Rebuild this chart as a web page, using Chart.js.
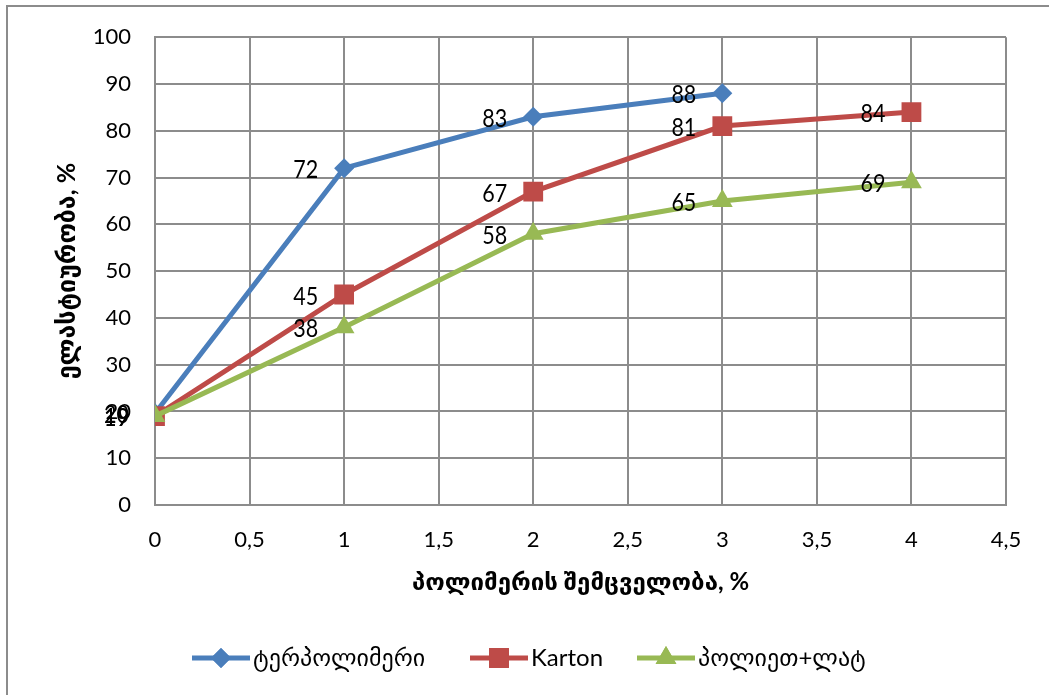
<!DOCTYPE html>
<html>
<head>
<meta charset="utf-8">
<script src="https://cdn.jsdelivr.net/npm/chart.js@4"></script>
<style>
  html, body { margin: 0; padding: 0; background: #fff; }
  #wrap { position: relative; width: 1049px; height: 695px; }
  #frame { position: absolute; left: 6px; top: 5px; right: -10px; bottom: -10px;
           border-left: 2px solid #8c8c8c; border-top: 2px solid #8c8c8c; }
  canvas { position: absolute; left: 0; top: 0; }
</style>
</head>
<body>
<div id="wrap">
  <div id="frame"></div>
  <canvas id="chart" width="1049" height="695"></canvas>
</div>
<script>
const xTitle = 'პოლიმერის შემცველობა, %';
const yTitle = 'ელასტიურობა, %';
const polymerContent = [0, 1, 2, 3, 4];
const terpolymer = [19.6, 72, 83, 88];
const karton = [19, 45, 67, 81, 84];
const polyLat = [19, 38, 58, 65, 69];
const seriesNames = ['ტერპოლიმერი', 'Karton', 'პოლიეთ+ლატ'];
const colors = ['#4a7ebb', '#be4b48', '#98b954'];
const styles = ['rectRot', 'rect', 'triangle'];
const radii = [10, 14, 12];

const FONT = "Lato, 'DejaVu Sans', sans-serif";

const toPoints = vals => vals.map((v, i) => ({ x: polymerContent[i], y: v }));

// later series on top, like the original
const datasets = [terpolymer, karton, polyLat].map((vals, i) => ({
    label: seriesNames[i],
    data: toPoints(vals),
    order: 3 - i,
    borderColor: colors[i],
    backgroundColor: colors[i],
    borderWidth: 5,
    pointStyle: styles[i],
    pointRadius: radii[i],
    pointHoverRadius: radii[i],
    pointBorderWidth: 0,
    tension: 0
}));

// value labels to the left of every point
const valueLabels = {
    id: 'valueLabels',
    afterDatasetsDraw(chart) {
        const ctx = chart.ctx;
        ctx.save();
        ctx.fillStyle = '#000';
        ctx.font = '25px ' + FONT;
        ctx.textAlign = 'right';
        ctx.textBaseline = 'middle';
        chart.data.datasets.forEach((ds, i) => {
            chart.getDatasetMeta(i).data.forEach((pt, j) => {
                ctx.save();
                ctx.translate(pt.x - 26, pt.y + 2);
                ctx.scale(0.86, 1);
                ctx.fillText(String(Math.round(ds.data[j].y)), 0, 0);
                ctx.restore();
            });
        });
        ctx.restore();
    }
};

// legend drawn as line + marker like the original
const lineLegend = {
    id: 'lineLegend',
    afterDraw(chart) {
        const ctx = chart.ctx;
        const y = 658;
        const starts = [192, 470, 637];
        ctx.save();
        ctx.font = '24px ' + FONT;
        ctx.textBaseline = 'middle';
        ctx.textAlign = 'left';
        chart.data.datasets.forEach((ds, i) => {
            const x0 = starts[i];
            ctx.strokeStyle = colors[i];
            ctx.lineWidth = 5;
            ctx.beginPath();
            ctx.moveTo(x0, y);
            ctx.lineTo(x0 + 58, y);
            ctx.stroke();
            ctx.fillStyle = colors[i];
            Chart.helpers.drawPoint(ctx, { pointStyle: styles[i], radius: radii[i], rotation: 0, borderWidth: 0 }, x0 + 29, y);
            ctx.fill();
            ctx.fillStyle = '#000';
            ctx.fillText(ds.label, x0 + 61, y);
        });
        ctx.restore();
    }
};

new Chart(document.getElementById('chart'), {
    type: 'line',
    data: { datasets },
    options: {
        responsive: false,
        animation: false,
        events: [],
        layout: { padding: { left: 42, top: 35, right: 43, bottom: 96 } },
        plugins: {
            legend: { display: false },
            tooltip: { enabled: false }
        },
        scales: {
            x: {
                type: 'linear',
                min: 0,
                max: 4.5,
                ticks: {
                    stepSize: 0.5,
                    padding: 22,
                    color: '#000',
                    font: { family: FONT, size: 22 },
                    callback: v => String(v).replace('.', ',')
                },
                grid: { color: '#8c8c8c', lineWidth: 2, drawTicks: false },
                border: { color: '#8c8c8c', width: 2 },
                title: {
                    display: true,
                    text: xTitle,
                    color: '#000',
                    font: { family: FONT, size: 24, weight: 'bold' },
                    padding: { top: 0, bottom: 2 }
                },
                afterFit: s => { s.height = 94; }
            },
            y: {
                min: 0,
                max: 100,
                ticks: {
                    stepSize: 10,
                    padding: 24,
                    color: '#000',
                    font: { family: FONT, size: 22 }
                },
                grid: { color: '#8c8c8c', lineWidth: 2, drawTicks: false },
                border: { color: '#8c8c8c', width: 2 },
                title: {
                    display: true,
                    text: yTitle,
                    color: '#000',
                    font: { family: FONT, size: 25, weight: 'bold' },
                    padding: { top: 10, bottom: 0 }
                },
                afterFit: s => { s.width = 113; }
            }
        }
    },
    plugins: [valueLabels, lineLegend]
});
</script>
</body>
</html>
